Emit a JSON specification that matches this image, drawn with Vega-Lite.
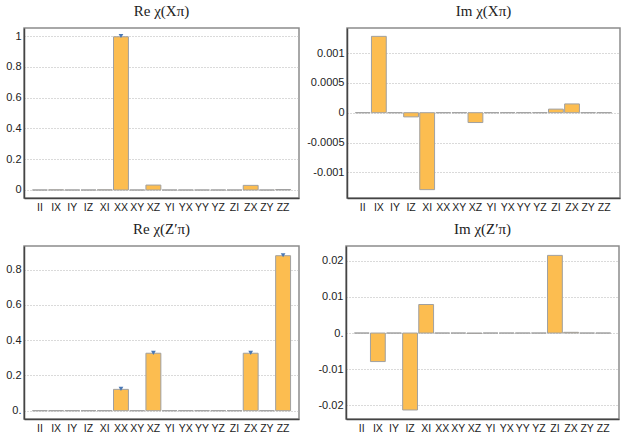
{
  "$schema": "https://vega.github.io/schema/vega-lite/v6.json",
  "padding": {"top": 3, "left": 0, "right": 0, "bottom": 0},
  "datasets": {
    "bars": [
      {"panel": "reX", "op": "II", "value": 0},
      {"panel": "reX", "op": "IX", "value": 0.001},
      {"panel": "reX", "op": "IY", "value": 0},
      {"panel": "reX", "op": "IZ", "value": 0},
      {"panel": "reX", "op": "XI", "value": 0.001},
      {"panel": "reX", "op": "XX", "value": 0.995},
      {"panel": "reX", "op": "XY", "value": 0},
      {"panel": "reX", "op": "XZ", "value": 0.032},
      {"panel": "reX", "op": "YI", "value": 0},
      {"panel": "reX", "op": "YX", "value": 0},
      {"panel": "reX", "op": "YY", "value": 0},
      {"panel": "reX", "op": "YZ", "value": 0},
      {"panel": "reX", "op": "ZI", "value": 0},
      {"panel": "reX", "op": "ZX", "value": 0.03},
      {"panel": "reX", "op": "ZY", "value": 0},
      {"panel": "reX", "op": "ZZ", "value": 0.003},
      {"panel": "imX", "op": "II", "value": 0},
      {"panel": "imX", "op": "IX", "value": 0.00128},
      {"panel": "imX", "op": "IY", "value": 0},
      {"panel": "imX", "op": "IZ", "value": -0.00007},
      {"panel": "imX", "op": "XI", "value": -0.00129},
      {"panel": "imX", "op": "XX", "value": 0},
      {"panel": "imX", "op": "XY", "value": 0},
      {"panel": "imX", "op": "XZ", "value": -0.000165},
      {"panel": "imX", "op": "YI", "value": 0},
      {"panel": "imX", "op": "YX", "value": 0},
      {"panel": "imX", "op": "YY", "value": 0},
      {"panel": "imX", "op": "YZ", "value": 0},
      {"panel": "imX", "op": "ZI", "value": 0.00006},
      {"panel": "imX", "op": "ZX", "value": 0.000147},
      {"panel": "imX", "op": "ZY", "value": 0},
      {"panel": "imX", "op": "ZZ", "value": 0},
      {"panel": "reZ", "op": "II", "value": 0},
      {"panel": "reZ", "op": "IX", "value": 0},
      {"panel": "reZ", "op": "IY", "value": 0},
      {"panel": "reZ", "op": "IZ", "value": 0},
      {"panel": "reZ", "op": "XI", "value": 0},
      {"panel": "reZ", "op": "XX", "value": 0.121},
      {"panel": "reZ", "op": "XY", "value": 0},
      {"panel": "reZ", "op": "XZ", "value": 0.326},
      {"panel": "reZ", "op": "YI", "value": 0},
      {"panel": "reZ", "op": "YX", "value": 0},
      {"panel": "reZ", "op": "YY", "value": 0},
      {"panel": "reZ", "op": "YZ", "value": 0},
      {"panel": "reZ", "op": "ZI", "value": 0},
      {"panel": "reZ", "op": "ZX", "value": 0.326},
      {"panel": "reZ", "op": "ZY", "value": 0},
      {"panel": "reZ", "op": "ZZ", "value": 0.879},
      {"panel": "imZ", "op": "II", "value": 0},
      {"panel": "imZ", "op": "IX", "value": -0.0079},
      {"panel": "imZ", "op": "IY", "value": 0},
      {"panel": "imZ", "op": "IZ", "value": -0.0213},
      {"panel": "imZ", "op": "XI", "value": 0.0079},
      {"panel": "imZ", "op": "XX", "value": 0},
      {"panel": "imZ", "op": "XY", "value": 0},
      {"panel": "imZ", "op": "XZ", "value": -0.0001},
      {"panel": "imZ", "op": "YI", "value": 0},
      {"panel": "imZ", "op": "YX", "value": 0},
      {"panel": "imZ", "op": "YY", "value": 0},
      {"panel": "imZ", "op": "YZ", "value": 0},
      {"panel": "imZ", "op": "ZI", "value": 0.0215},
      {"panel": "imZ", "op": "ZX", "value": 0.0002},
      {"panel": "imZ", "op": "ZY", "value": 0},
      {"panel": "imZ", "op": "ZZ", "value": 0}
    ],
    "ideal": [
      {"panel": "reX", "op": "XX", "value": 1.0},
      {"panel": "reZ", "op": "XX", "value": 0.124},
      {"panel": "reZ", "op": "XZ", "value": 0.328},
      {"panel": "reZ", "op": "ZX", "value": 0.328},
      {"panel": "reZ", "op": "ZZ", "value": 0.882}
    ]
  },
  "config": {
    "view": {"stroke": "#8c8c8c", "strokeWidth": 1.5},
    "title": {"font": "Liberation Serif", "fontSize": 15, "fontWeight": "normal", "color": "#222", "offset": 9},
    "axis": {
      "labelFont": "Liberation Sans",
      "labelFontSize": 11,
      "labelColor": "#222",
      "labelOverlap": false,
      "labelBound": false,
      "labelFlush": false,
      "domainColor": "#444",
      "domainWidth": 1.5,
      "title": null
    },
    "axisX": {"labelAngle": 0, "labelFontSize": 10.5, "ticks": false, "grid": false, "labelPadding": 4, "minExtent": 20, "maxExtent": 20},
    "axisY": {"ticks": false, "gridDash": [1, 2], "gridColor": "#b5b5b5", "labelPadding": 3},
    "scale": {"bandPaddingInner": 0.08, "bandPaddingOuter": 0.52},
    "bar": {"color": "#fcbd50", "stroke": "#a0a0a0", "strokeWidth": 1},
    "point": {"shape": "triangle-down", "filled": true, "color": "#4a78b5", "size": 22, "opacity": 1}
  },
  "spacing": 2,
  "vconcat": [
    {
      "spacing": 5,
      "hconcat": [
        {
          "title": "Re χ(Xπ)",
          "width": 275,
          "height": 170,
          "encoding": {
            "x": {"field": "op", "type": "nominal", "sort": null},
            "y": {"field": "value", "type": "quantitative", "scale": {"domain": [-0.052, 1.052], "nice": false, "zero": false}, "axis": {"values": [0, 0.2, 0.4, 0.6, 0.8, 1], "labelExpr": "format(datum.value, '~g')", "minExtent": 23, "maxExtent": 23}}
          },
          "layer": [
            {
              "data": {"name": "bars"},
              "transform": [{"filter": "datum.panel == 'reX'"}],
              "mark": "bar"
            },
            {
              "data": {"name": "ideal"},
              "transform": [{"filter": "datum.panel == 'reX'"}],
              "mark": "point"
            }
          ]
        },
        {
          "title": "Im χ(Xπ)",
          "width": 273,
          "height": 170,
          "data": {"name": "bars"},
          "transform": [{"filter": "datum.panel == 'imX'"}],
          "mark": "bar",
          "encoding": {
            "x": {"field": "op", "type": "nominal", "sort": null},
            "y": {"field": "value", "type": "quantitative", "scale": {"domain": [-0.00143, 0.00142], "nice": false, "zero": false}, "axis": {"values": [-0.001, -0.0005, 0, 0.0005, 0.001], "labelExpr": "replace(format(datum.value, '~g'), '−', '-')", "minExtent": 40, "maxExtent": 40}}
          }
        }
      ]
    },
    {
      "spacing": 5,
      "hconcat": [
        {
          "title": "Re χ(Z′π)",
          "width": 275,
          "height": 173,
          "encoding": {
            "x": {"field": "op", "type": "nominal", "sort": null, "axis": {"minExtent": 16, "maxExtent": 16}},
            "y": {"field": "value", "type": "quantitative", "scale": {"domain": [-0.047, 0.934], "nice": false, "zero": false}, "axis": {"values": [0, 0.2, 0.4, 0.6, 0.8], "labelExpr": "datum.value == 0 ? '0.' : format(datum.value, '.1f')", "minExtent": 23, "maxExtent": 23}}
          },
          "layer": [
            {
              "data": {"name": "bars"},
              "transform": [{"filter": "datum.panel == 'reZ'"}],
              "mark": "bar"
            },
            {
              "data": {"name": "ideal"},
              "transform": [{"filter": "datum.panel == 'reZ'"}],
              "mark": "point"
            }
          ]
        },
        {
          "title": "Im χ(Z′π)",
          "width": 273,
          "height": 173,
          "data": {"name": "bars"},
          "transform": [{"filter": "datum.panel == 'imZ'"}],
          "mark": "bar",
          "encoding": {
            "x": {"field": "op", "type": "nominal", "sort": null, "axis": {"minExtent": 16, "maxExtent": 16}},
            "y": {"field": "value", "type": "quantitative", "scale": {"domain": [-0.0238, 0.0241], "nice": false, "zero": false}, "axis": {"values": [-0.02, -0.01, 0, 0.01, 0.02], "labelExpr": "datum.value == 0 ? '0.' : replace(format(datum.value, '.2f'), '−', '-')", "minExtent": 40, "maxExtent": 40}}
          }
        }
      ]
    }
  ]
}
